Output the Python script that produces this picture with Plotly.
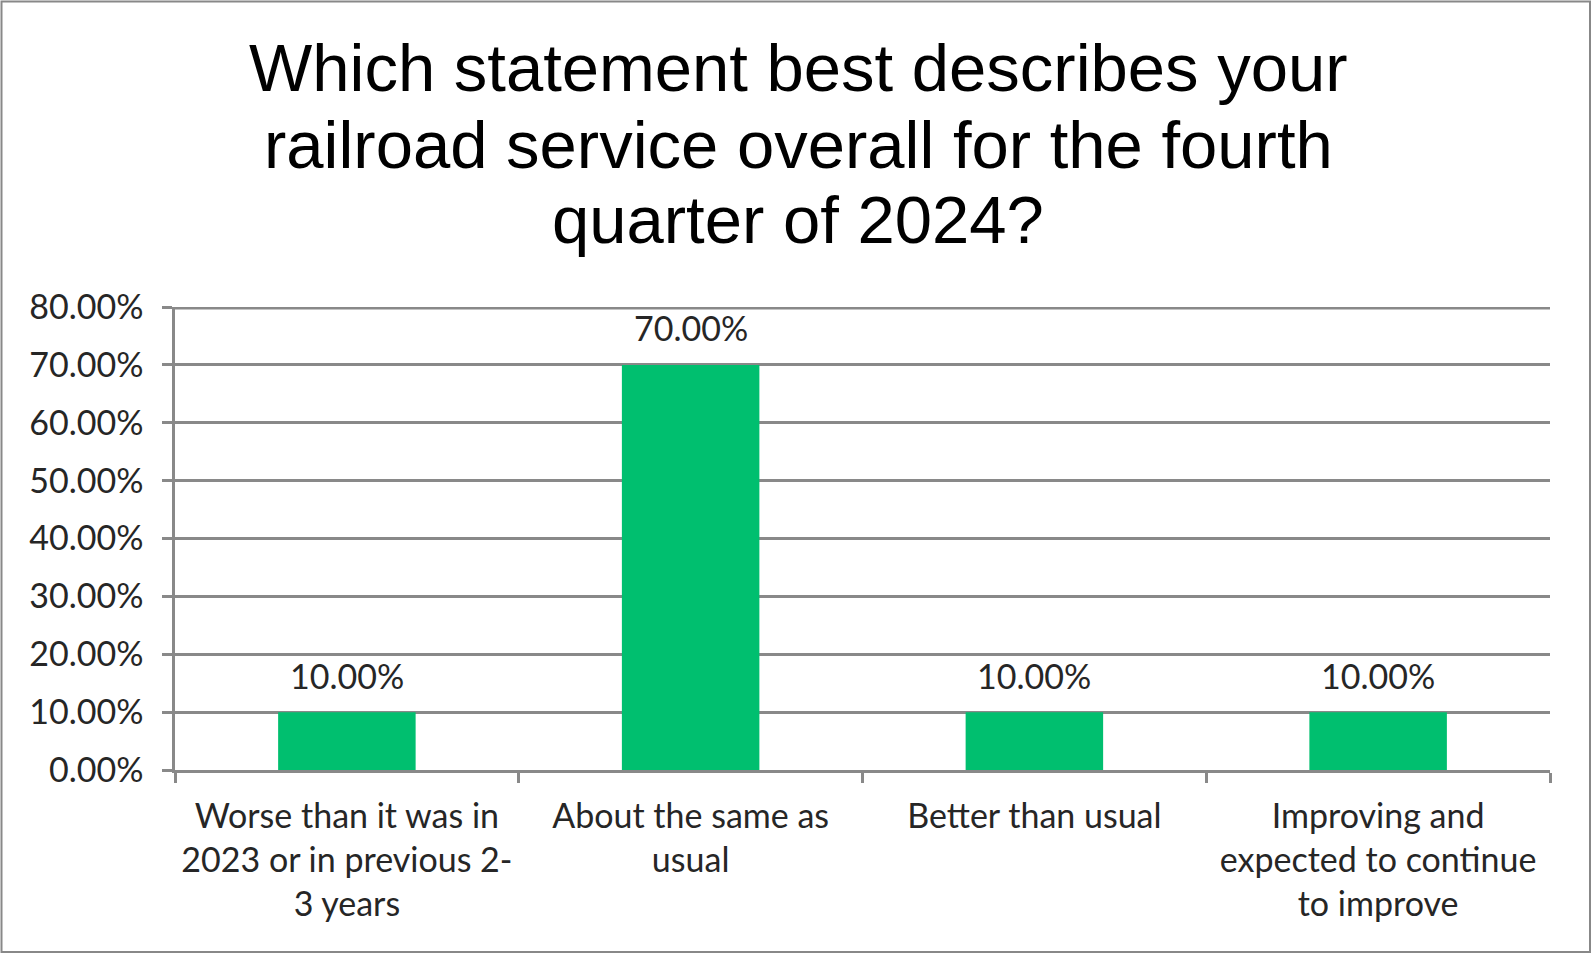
import plotly.graph_objects as go

categories = [
    "Worse than it was in<br>2023 or in previous 2-<br>3 years",
    "About the same as<br>usual",
    "Better than usual",
    "Improving and<br>expected to continue<br>to improve",
]
values = [0.10, 0.70, 0.10, 0.10]
title_lines = [
    "Which statement best describes your",
    "railroad service overall for the fourth",
    "quarter of 2024?",
]
y_max = 0.8

W, H = 1592, 954
ml, mr, mt, mb = 175, 42, 307, 184
pw, ph = W - ml - mr, H - mt - mb

def px(x):
    return (x - ml) / pw

def py(y):
    return 1 - (y - mt) / ph

grid = "#898989"
font_fam = "Lato, 'Open Sans', sans-serif"
txt_col = "#262626"
fs = 34

fig = go.Figure(
    go.Bar(
        x=categories,
        y=values,
        marker=dict(color="#00BF6F", line=dict(width=0)),
        width=0.4,
        hoverinfo="x+y",
    )
)

annotations = []
# title lines
title_centers = [68, 144, 220]
for line, yc in zip(title_lines, title_centers):
    annotations.append(dict(
        text=line, xref="paper", yref="paper", x=px(W / 2 + 2), y=py(yc),
        xanchor="center", yanchor="middle", showarrow=False,
        font=dict(family="'Liberation Sans', Arial, sans-serif", size=67, color="black"),
    ))
# data labels
for c, v in zip(categories, values):
    annotations.append(dict(
        text=f"{v:.2%}", x=c, y=v, xref="x", yref="y",
        xanchor="center", yanchor="middle", yshift=37, showarrow=False,
        font=dict(family=font_fam, size=fs, color=txt_col),
    ))

fig.update_layout(
    width=W,
    height=H,
    margin=dict(l=ml, r=mr, t=mt, b=mb),
    paper_bgcolor="white",
    plot_bgcolor="white",
    showlegend=False,
    annotations=annotations,
    shapes=[
        dict(
            type="rect",
            xref="paper",
            yref="paper",
            x0=px(1.5),
            x1=px(1590),
            y0=py(952),
            y1=py(1.5),
            line=dict(color="#888888", width=2),
            fillcolor="rgba(0,0,0,0)",
            layer="below",
        ),
        dict(
            type="line",
            xref="paper",
            yref="y",
            x0=0,
            x1=1,
            y0=y_max,
            y1=y_max,
            line=dict(color=grid, width=5),
            layer="below",
        ),
    ],
)

fig.update_yaxes(
    range=[0, y_max],
    dtick=0.1,
    tickformat=".2%",
    showgrid=True,
    gridcolor=grid,
    gridwidth=2.5,
    showline=True,
    linecolor=grid,
    linewidth=2.5,
    ticks="outside",
    ticklen=10,
    tickwidth=2.5,
    tickcolor=grid,
    ticklabelstandoff=12,
    tickfont=dict(family=font_fam, size=fs, color=txt_col),
    zeroline=False,
)

fig.update_xaxes(
    showline=True,
    linecolor=grid,
    linewidth=2.5,
    ticks="outside",
    tickson="boundaries",
    ticklen=10,
    tickwidth=2.5,
    tickcolor=grid,
    ticklabelstandoff=14,
    tickfont=dict(family=font_fam, size=fs, color=txt_col),
    showgrid=False,
)

fig.write_html(
    "out.html",
    config={"displayModeBar": False},
    post_script="document.body.style.margin='0';document.body.style.overflow='hidden';",
)
